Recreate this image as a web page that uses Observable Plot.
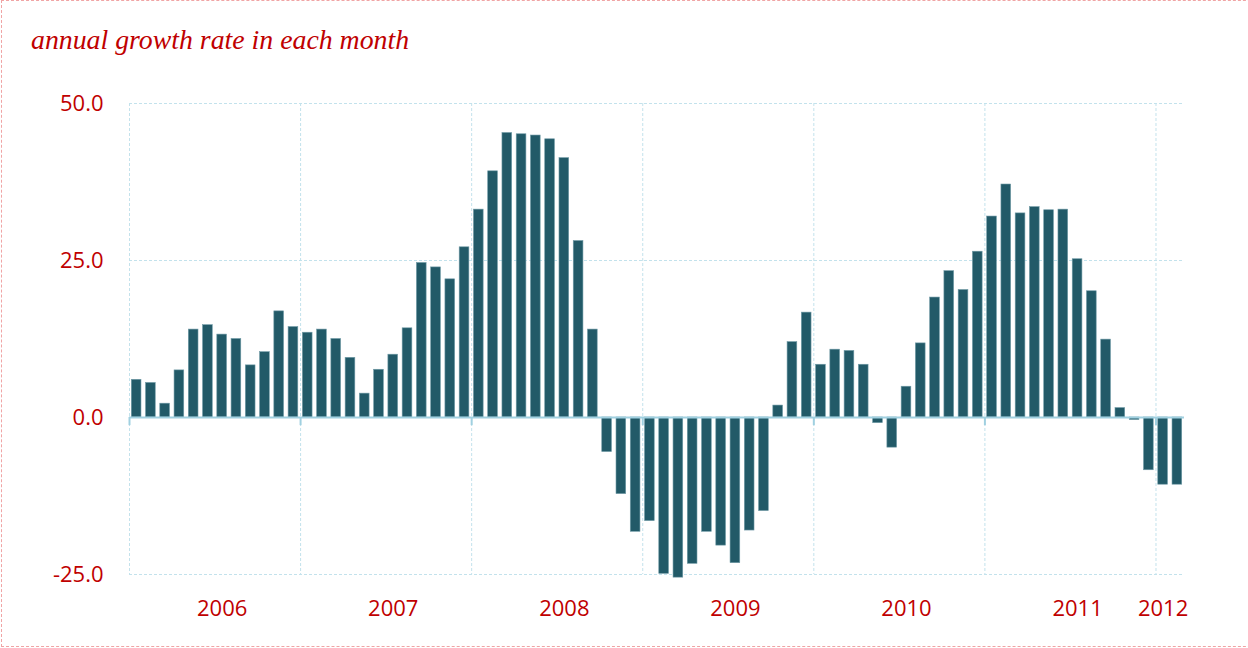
<!DOCTYPE html>
<html>
<head>
<meta charset="utf-8">
<script src="https://cdn.jsdelivr.net/npm/d3@7"></script>
<script src="https://cdn.jsdelivr.net/npm/@observablehq/plot@0.6"></script>
<style>
html,body{margin:0;padding:0;background:#fff;overflow:hidden;width:1248px;height:648px}
#frame{position:absolute;left:1px;top:0;width:1300px;height:647px;border:1px dashed #f0a4a4;box-sizing:border-box}
#title{position:absolute;left:31px;top:25px;font-family:"Liberation Serif",serif;font-style:italic;font-size:27.8px;line-height:30px;color:#c00000;white-space:nowrap}
#chart{position:absolute;left:0;top:70px}
</style>
</head>
<body>
<div id="frame"></div>
<div id="title">annual growth rate in each month</div>
<div id="chart"></div>
<script>
// Years shown and monthly annual growth rates (%)
const years = [2006, 2007, 2008, 2009, 2010, 2011, 2012];
const growth2006 = [6.0, 5.5, 2.2, 7.5, 14.0, 14.7, 13.2, 12.5, 8.3, 10.4, 16.9, 14.4];
const growth2007 = [13.5, 14.0, 12.5, 9.5, 3.8, 7.6, 10.0, 14.2, 24.6, 23.9, 22.0, 27.1];
const growth2008 = [33.1, 39.2, 45.3, 45.1, 44.9, 44.3, 41.3, 28.1, 14.0, -5.5, -12.2, -18.2];
const growth2009 = [-16.5, -24.9, -25.5, -23.3, -18.2, -20.4, -23.2, -18.0, -14.9, 1.9, 12.0, 16.7];
const growth2010 = [8.4, 10.8, 10.6, 8.4, -0.9, -4.8, 4.9, 11.8, 19.1, 23.3, 20.3, 26.4];
const growth2011 = [32.0, 37.1, 32.5, 33.5, 33.0, 33.1, 25.2, 20.1, 12.4, 1.5, -0.4, -8.4];
const growth2012 = [-10.7, -10.7];
const yTicks = [50, 25, 0, -25];

const series = [growth2006, growth2007, growth2008, growth2009, growth2010, growth2011, growth2012];
const data = series.flatMap((vals, k) => vals.map((v, m) => ({year: years[k], month: m, v})));
data.forEach((d, i) => { d.i = i; });
const n = data.length;
const yearStarts = years.map(y => data.findIndex(d => d.year === y));
const yearLabels = years.map((y, k) => ({
  label: String(y),
  pos: yearStarts[k] + (series[k].length >= 7 ? 6 : 0) + 0.5
}));

const red = "#c00000";
const grid = "#c3e2ec";
const axisBlue = "#a0d0e0";

const chart = Plot.plot({
  width: 1248,
  height: 578,
  marginLeft: 129,
  marginRight: 64,
  marginTop: 33,
  marginBottom: 74,
  x: {domain: [0, n], axis: null},
  y: {domain: [-25, 50], axis: null},
  style: {fontFamily: "'Open Sans', sans-serif", fontSize: "22px", color: red, background: "transparent"},
  marks: [
    Plot.ruleY([50, 25, -25], {stroke: grid, strokeWidth: 1, strokeDasharray: "3,2"}),
    Plot.ruleX(yearStarts, {stroke: grid, strokeWidth: 1, strokeDasharray: "3,2"}),
    Plot.rectY(data, {x1: d => d.i + 0.16, x2: d => d.i + 0.84, y: "v", fill: "#225a68", stroke: "#6f9aa6", strokeWidth: 0.6}),
    Plot.ruleY([0], {stroke: axisBlue, strokeWidth: 2}),
    Plot.ruleX(yearStarts, {y1: 0, y2: -1.3, stroke: axisBlue, strokeWidth: 2}),
    Plot.axisY(yTicks, {label: null, tickSize: 0, tickPadding: 26, tickFormat: d => d.toFixed(1), fill: red, fontSize: 22}),
    Plot.text(yearLabels, {x: "pos", y: -25, dy: 34, text: "label", fill: red, fontSize: 22, lineAnchor: "middle"})
  ]
});
document.getElementById("chart").appendChild(chart);
</script>
</body>
</html>
